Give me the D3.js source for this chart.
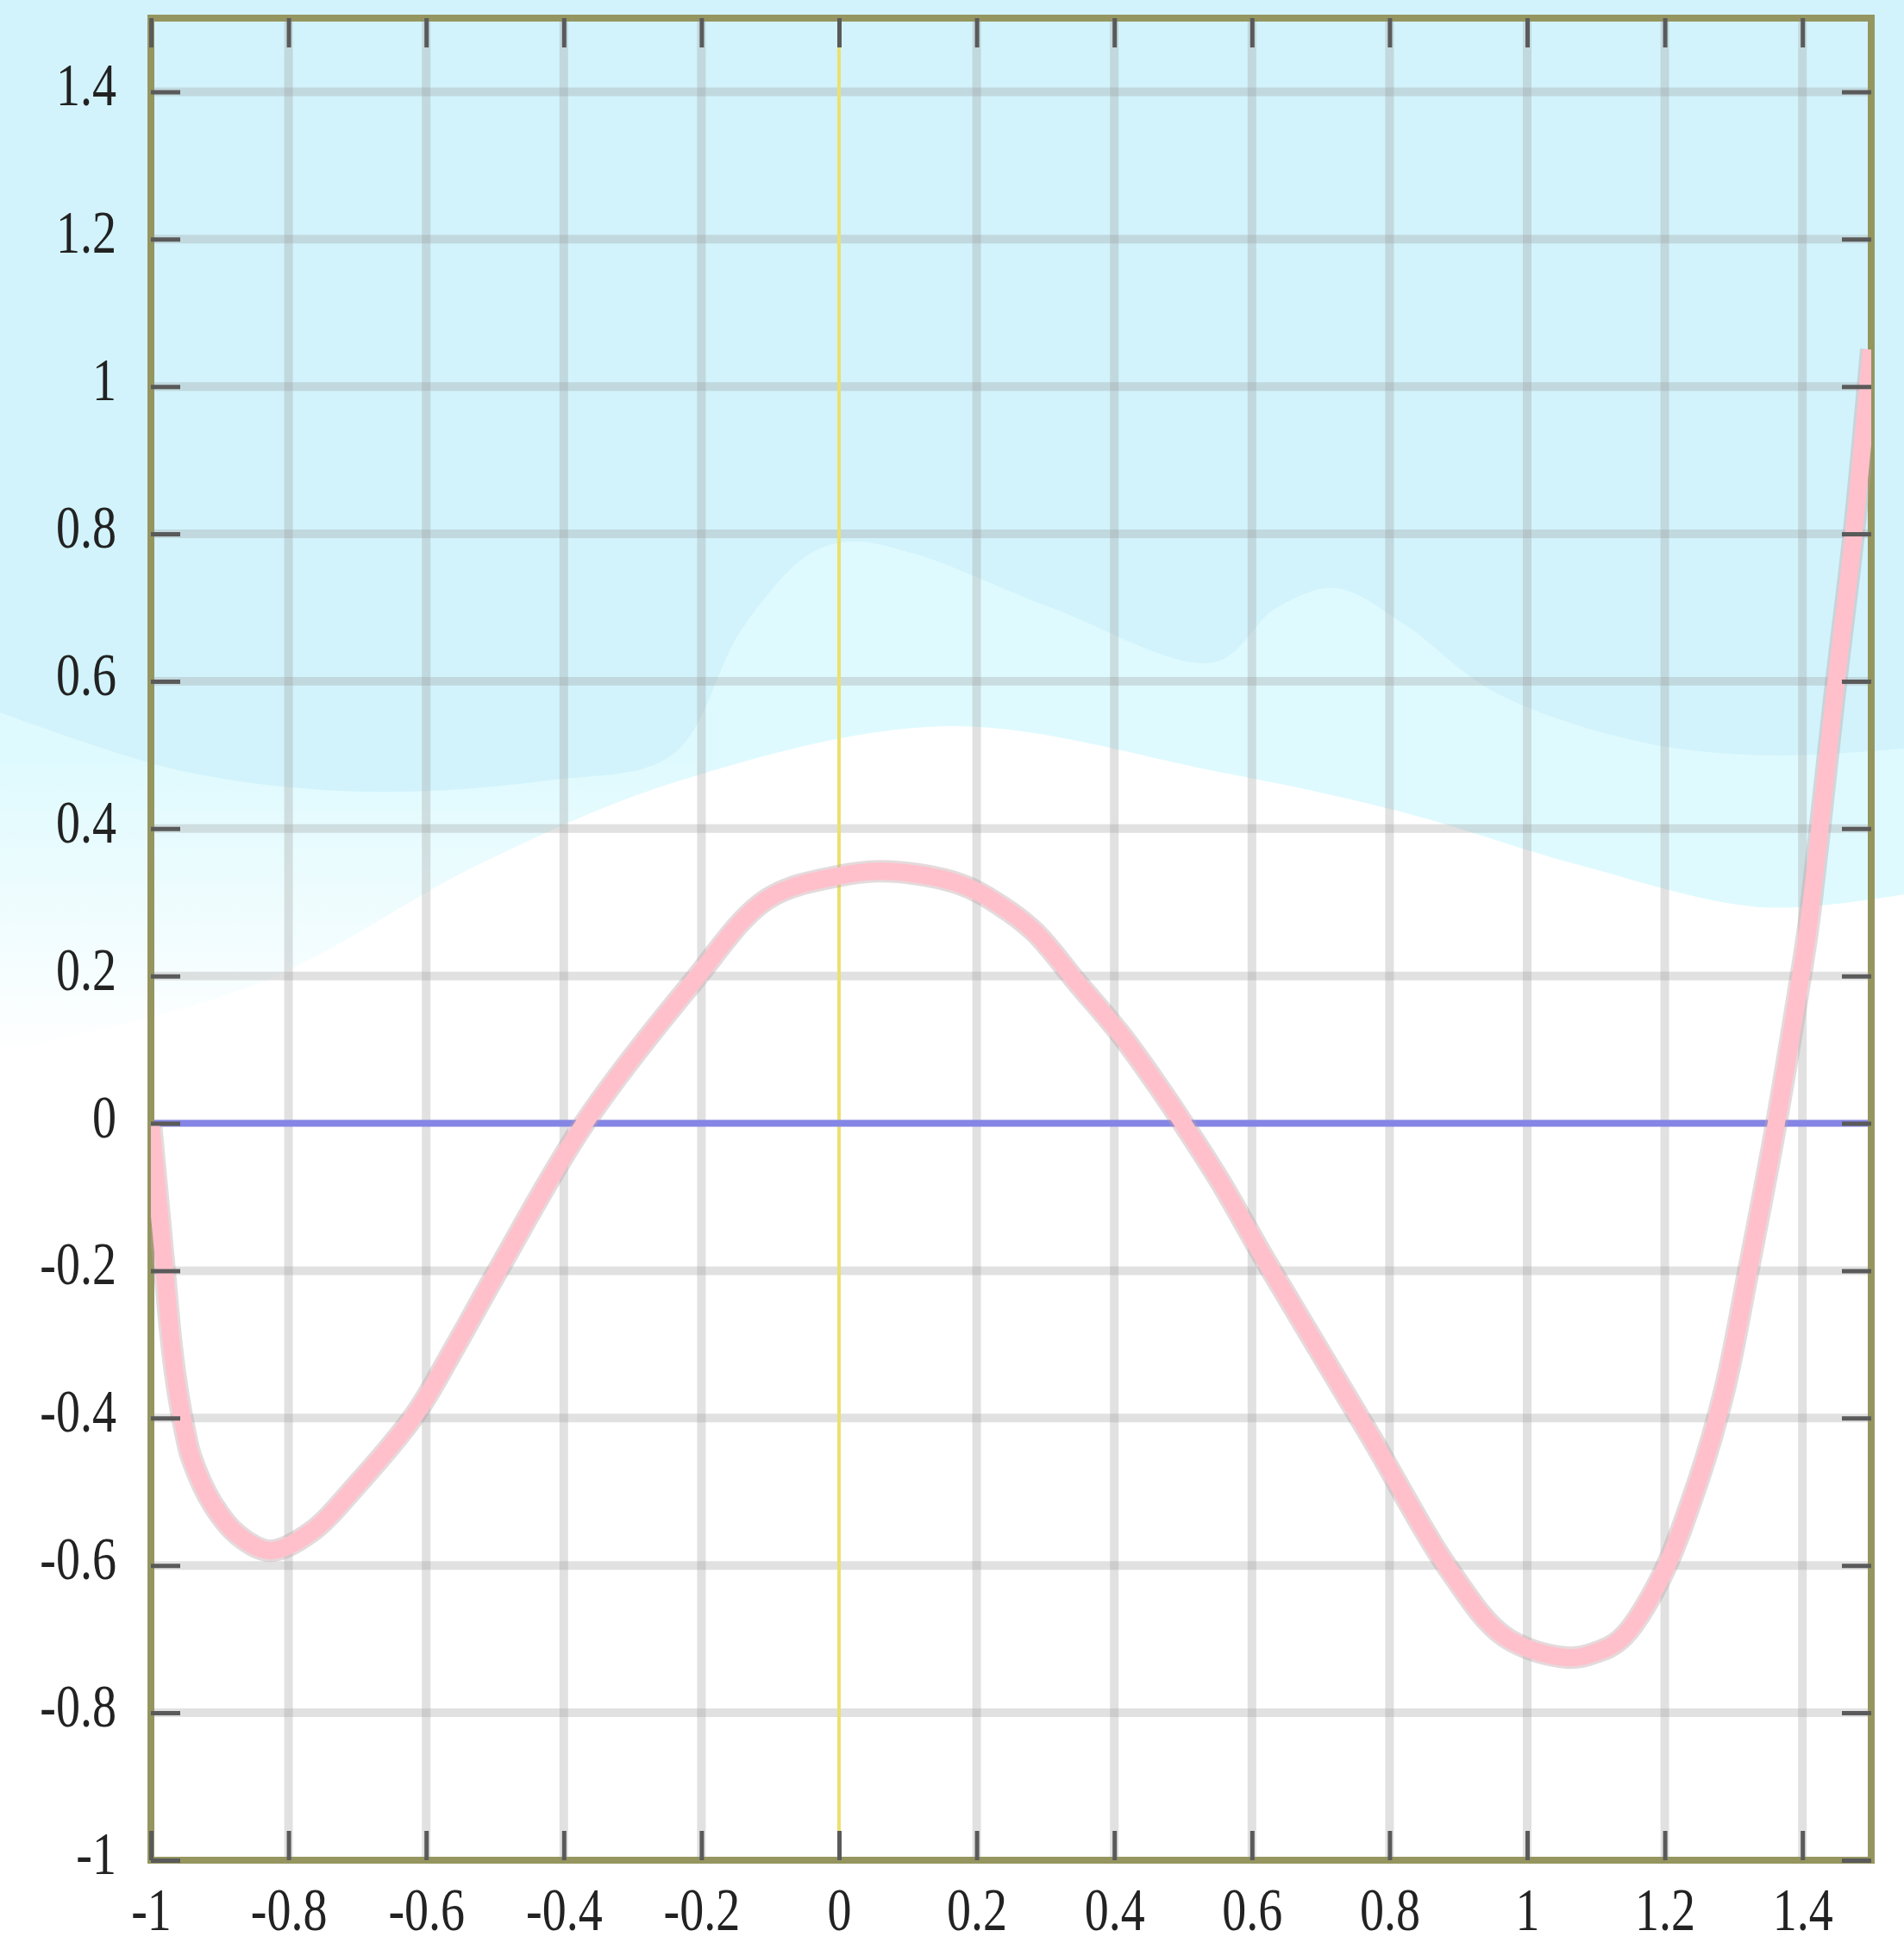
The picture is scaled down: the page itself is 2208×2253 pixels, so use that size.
<!DOCTYPE html>
<html>
<head>
<meta charset="utf-8">
<script src="https://cdn.jsdelivr.net/npm/d3@7"></script>
<style>
  html, body { margin: 0; padding: 0; background: #ffffff; }
  svg { display: block; }
</style>
</head>
<body>
<div id="chart"></div>
<script>
// Tick values and their printed labels
var xTicks = [-1, -0.8, -0.6, -0.4, -0.2, 0, 0.2, 0.4, 0.6, 0.8, 1, 1.2, 1.4];
var xTickLabels = ['-1', '-0.8', '-0.6', '-0.4', '-0.2', '0', '0.2', '0.4', '0.6', '0.8', '1', '1.2', '1.4'];
var yTicks = [-1, -0.8, -0.6, -0.4, -0.2, 0, 0.2, 0.4, 0.6, 0.8, 1, 1.2, 1.4];
var yTickLabels = ['-1', '-0.8', '-0.6', '-0.4', '-0.2', '0', '0.2', '0.4', '0.6', '0.8', '1', '1.2', '1.4'];

// Curve
var curveX = [-1.000, -0.990, -0.980, -0.970, -0.960, -0.950, -0.941, -0.910, -0.873, -0.827, -0.768,
              -0.700, -0.616, -0.556, -0.499, -0.370, -0.214, -0.105, 0.001, 0.074, 0.175, 0.234,
              0.284, 0.347, 0.410, 0.464, 0.500, 0.556, 0.619, 0.772, 0.884, 0.968, 1.058, 1.100,
              1.136, 1.192, 1.248, 1.287, 1.321, 1.362, 1.394, 1.409, 1.449, 1.475, 1.500];
var curveY = [0.000, -0.100, -0.200, -0.300, -0.370, -0.420, -0.454, -0.517, -0.559, -0.580, -0.555,
              -0.490, -0.395, -0.300, -0.205, 0.000, 0.190, 0.304, 0.336, 0.342, 0.325, 0.296,
              0.260, 0.190, 0.120, 0.050, 0.000, -0.082, -0.185, -0.424, -0.602, -0.697, -0.725, -0.718,
              -0.700, -0.621, -0.487, -0.361, -0.202, 0.000, 0.179, 0.270, 0.599, 0.804, 1.050];

(function(){
  var W = 2208, H = 2253;
  var plot = { left: 175, right: 2170, top: 21, bottom: 2157 };
  var fontFamily = '"Liberation Serif", "DejaVu Serif", "Times New Roman", serif';

  var svg = d3.select('#chart').append('svg')
    .attr('width', W)
    .attr('height', H)
    .style('font-family', fontFamily);

  var defs = svg.append('defs');
  var fade = defs.append('linearGradient').attr('id', 'fadeDown')
    .attr('x1', 0).attr('y1', 0).attr('x2', 0).attr('y2', 1);
  fade.append('stop').attr('offset', '0%').attr('stop-color', '#ffffff').attr('stop-opacity', 0);
  fade.append('stop').attr('offset', '100%').attr('stop-color', '#ffffff').attr('stop-opacity', 1);

  defs.append('clipPath').attr('id', 'plotClip')
    .append('rect')
    .attr('x', plot.left).attr('y', plot.top)
    .attr('width', plot.right - plot.left).attr('height', plot.bottom - plot.top);

  // Decorative wave background
  var wave = d3.line().curve(d3.curveCatmullRom);
  var lightEdge = [[0, 1220], [300, 1140], [560, 1000], [789, 905], [1099, 842], [1408, 894],
                   [1620, 940], [1831, 1003], [2042, 1052], [2208, 1037]];
  var darkEdge = [[0, 826], [211, 894], [422, 918], [634, 905], [780, 875], [860, 730], [935, 645],
                  [985, 628], [1060, 642], [1220, 705], [1408, 768], [1480, 705], [1549, 682],
                  [1630, 725], [1732, 802], [1901, 860], [2050, 876], [2208, 868]];
  function closeTop(edge){ return 'M0,0L' + W + ',0' + 'L' + wave(edge.slice().reverse()).slice(1) + 'Z'; }

  var bg = svg.append('g').attr('class', 'bg');
  bg.append('path').attr('d', closeTop(lightEdge)).attr('fill', '#dffafe');
  bg.append('rect').attr('x', 0).attr('y', 880).attr('width', 820).attr('height', 345)
    .attr('fill', 'url(#fadeDown)');
  bg.append('path').attr('d', closeTop(darkEdge)).attr('fill', '#d2f3fb');

  // Scales
  var x = d3.scaleLinear().domain([-1, 1.5]).range([plot.left, plot.right]);
  var y = d3.scaleLinear().domain([-1, 1.5]).range([plot.bottom, plot.top]);

  // Grid
  var grid = svg.append('g').attr('class', 'grid')
    .attr('stroke', '#9a9a9a').attr('stroke-opacity', 0.3).attr('stroke-width', 10);
  grid.selectAll('.gx')
    .data(xTicks.filter(function(d){ return d !== -1 && d !== 0; }))
    .enter().append('line')
    .attr('x1', function(d){ return x(d); }).attr('x2', function(d){ return x(d); })
    .attr('y1', plot.top).attr('y2', plot.bottom);
  grid.selectAll('.gy')
    .data(yTicks.filter(function(d){ return d !== -1 && d !== 0; }))
    .enter().append('line')
    .attr('y1', function(d){ return y(d); }).attr('y2', function(d){ return y(d); })
    .attr('x1', plot.left).attr('x2', plot.right);

  // Zero axes
  svg.append('line')
    .attr('x1', x(0)).attr('x2', x(0)).attr('y1', plot.top).attr('y2', plot.bottom)
    .attr('stroke', '#ece070').attr('stroke-width', 4);
  svg.append('line')
    .attr('x1', plot.left).attr('x2', plot.right).attr('y1', y(0)).attr('y2', y(0))
    .attr('stroke', '#8585e5').attr('stroke-width', 8);

  // Frame
  svg.append('rect')
    .attr('x', plot.left).attr('y', plot.top)
    .attr('width', plot.right - plot.left).attr('height', plot.bottom - plot.top)
    .attr('fill', 'none').attr('stroke', '#959560').attr('stroke-width', 8);

  // Curve
  var pts = curveX.map(function(d, i){ return [d, curveY[i]]; });
  var line = d3.line()
    .x(function(d){ return x(d[0]); })
    .y(function(d){ return y(d[1]); })
    .curve(d3.curveCatmullRom.alpha(0.5));
  var cg = svg.append('g').attr('clip-path', 'url(#plotClip)');
  cg.append('path').datum(pts).attr('d', line)
    .attr('fill', 'none').attr('stroke', '#bca2a8').attr('stroke-opacity', 0.4)
    .attr('stroke-width', 26).attr('stroke-linejoin', 'round');
  cg.append('path').datum(pts).attr('d', line)
    .attr('fill', 'none').attr('stroke', '#ffc0cb')
    .attr('stroke-width', 20).attr('stroke-linejoin', 'round');

  // Axes: inward ticks on all four sides
  function styleAxis(g){
    g.attr('font-family', fontFamily);
    g.select('.domain').remove();
    g.selectAll('line').attr('stroke', '#5a5a5a').attr('stroke-width', 5);
  }
  var axL = svg.append('g').attr('transform', 'translate(' + plot.left + ',0)')
    .call(d3.axisLeft(y).tickValues(yTicks).tickSizeInner(-34).tickSizeOuter(0).tickPadding(50)
      .tickFormat(function(d, i){ return yTickLabels[i]; }));
  styleAxis(axL);
  axL.selectAll('text')
    .attr('dy', '0.22em')
    .attr('transform', 'scale(0.8,1)')
    .style('font-size', '70px').style('fill', '#222222');

  var axB = svg.append('g').attr('transform', 'translate(0,' + plot.bottom + ')')
    .call(d3.axisBottom(x).tickValues(xTicks).tickSizeInner(-34).tickSizeOuter(0).tickPadding(31)
      .tickFormat(function(d, i){ return xTickLabels[i]; }));
  styleAxis(axB);
  axB.selectAll('text')
    .attr('transform', 'scale(0.8,1)')
    .style('font-size', '70px').style('fill', '#222222');

  var axT = svg.append('g').attr('transform', 'translate(0,' + plot.top + ')')
    .call(d3.axisTop(x).tickValues(xTicks).tickSizeInner(-34).tickSizeOuter(0).tickFormat(''));
  styleAxis(axT);
  var axR = svg.append('g').attr('transform', 'translate(' + plot.right + ',0)')
    .call(d3.axisRight(y).tickValues(yTicks).tickSizeInner(-34).tickSizeOuter(0).tickFormat(''));
  styleAxis(axR);
})();
</script>
</body>
</html>
